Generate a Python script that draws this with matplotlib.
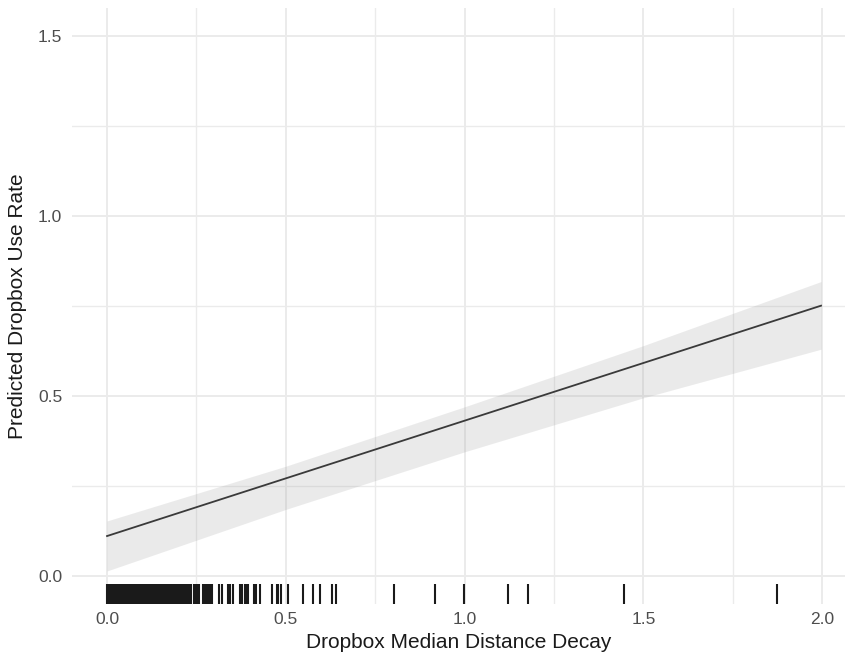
import matplotlib
matplotlib.use("Agg")
import matplotlib.pyplot as plt
from matplotlib.ticker import MultipleLocator

plt.rcParams['font.family'] = ['Liberation Sans', 'DejaVu Sans']

# fitted line (prediction)
line_x = [0.0, 1.997]
line_y = [0.111, 0.751]

# confidence band
band_x = [0.0, 0.5, 1.0, 1.5, 1.997]
band_lo = [0.014, 0.185, 0.345, 0.495, 0.630]
band_hi = [0.153, 0.305, 0.470, 0.640, 0.818]

# observed x values (rug)
rug_x = [0.000, 0.005, 0.010, 0.015, 0.020, 0.025, 0.030, 0.035, 0.040, 0.045,
         0.050, 0.055, 0.060, 0.065, 0.070, 0.075, 0.080, 0.085, 0.090, 0.095,
         0.100, 0.105, 0.110, 0.115, 0.120, 0.125, 0.130, 0.135, 0.140, 0.145,
         0.150, 0.155, 0.160, 0.165, 0.170, 0.175, 0.180, 0.185, 0.190, 0.195,
         0.200, 0.205, 0.210, 0.215, 0.220, 0.225, 0.230, 0.236, 0.242, 0.246,
         0.253, 0.258, 0.268, 0.273, 0.278, 0.283, 0.288, 0.293,
         0.313, 0.322, 0.338, 0.344, 0.352, 0.372, 0.378, 0.386, 0.392, 0.394,
         0.411, 0.417, 0.428, 0.461, 0.476, 0.479, 0.487, 0.505, 0.548, 0.576,
         0.596, 0.629, 0.641, 0.803, 0.917, 0.999, 1.122, 1.177, 1.446, 1.874]

fig = plt.figure(figsize=(8.48, 6.57), dpi=100)
ax = fig.add_axes([72/848, 1-604/657, (845-72)/848, (604-8)/657])

ax.fill_between(band_x, band_lo, band_hi, color='#999999', alpha=0.2, lw=0, zorder=2)
ax.plot(line_x, line_y, color='#3a3a3a', lw=1.3, zorder=3)
ax.vlines(rug_x, 0, 0.034, transform=ax.get_xaxis_transform(),
          color='#1a1a1a', lw=1.5, zorder=4)

ax.set_xlim(-0.098, 2.064)
ax.set_ylim(-0.0778, 1.578)
ax.xaxis.set_minor_locator(MultipleLocator(0.25))
ax.yaxis.set_minor_locator(MultipleLocator(0.25))
ax.set_xticks([0.0, 0.5, 1.0, 1.5, 2.0])
ax.set_xticklabels(['0.0', '0.5', '1.0', '1.5', '2.0'])
ax.set_yticks([0.0, 0.5, 1.0, 1.5])
ax.set_yticklabels(['0.0', '0.5', '1.0', '1.5'])

ax.grid(which='major', color='#ebebeb', lw=1.4, zorder=0)
ax.grid(which='minor', color='#ebebeb', lw=1.0, zorder=0)
ax.set_axisbelow(True)
for s in ax.spines.values():
    s.set_visible(False)
ax.tick_params(which='both', length=0)
ax.tick_params(axis='x', pad=6, labelsize=12.5, labelcolor='#4d4d4d')
ax.tick_params(axis='y', pad=7, labelsize=12.5, labelcolor='#4d4d4d')

ax.set_xlabel('Dropbox Median Distance Decay', fontsize=15, color='#1a1a1a', labelpad=4)
ax.set_ylabel('Predicted Dropbox Use Rate', fontsize=15, color='#1a1a1a', labelpad=8)

plt.savefig("out.png", dpi=100)
